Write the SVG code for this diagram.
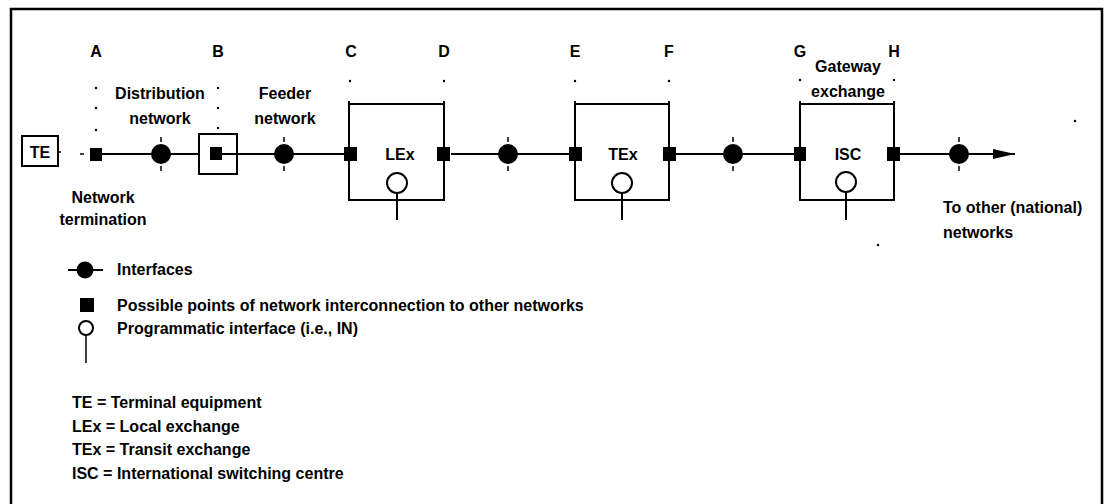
<svg xmlns="http://www.w3.org/2000/svg" width="1107" height="504" viewBox="0 0 1107 504">
<style>
text{font-family:"Liberation Sans",Arial,sans-serif;font-weight:bold;font-size:16px;fill:#000}
.c{text-anchor:middle}
.ln{stroke:#000;stroke-width:2;fill:none}
.thin{stroke:#000;stroke-width:1.5;fill:none}
.sq{fill:#000}
.dot{fill:#000}
.ifc{fill:#000}
.pi{fill:#fff;stroke:#000;stroke-width:2}
</style>
<defs>
<marker id="arr" viewBox="0 0 22 12" refX="22" refY="6" markerWidth="22" markerHeight="12" markerUnits="userSpaceOnUse" orient="auto">
<path d="M0,1 L22,6 L0,11 Z" fill="#000"/>
</marker>
<g id="ifcSym">
<line x1="0" y1="-17" x2="0" y2="-12" class="thin"/>
<line x1="0" y1="12" x2="0" y2="17" class="thin"/>
<circle cx="0" cy="0" r="10" class="ifc"/>
</g>
<g id="dotSym"><circle cx="0" cy="0" r="1.2" class="dot"/></g>
</defs>
<rect width="1107" height="504" fill="#fff"/>
<path d="M11,504 V9 H1102 V504" fill="none" stroke="#000" stroke-width="2.5"/>

<g id="reference-labels">
<text x="96" y="57" class="c">A</text>
<text x="218" y="57" class="c">B</text>
<text x="351" y="57" class="c">C</text>
<text x="444" y="57" class="c">D</text>
<text x="575" y="57" class="c">E</text>
<text x="669" y="57" class="c">F</text>
<text x="800" y="57" class="c">G</text>
<text x="894" y="57" class="c">H</text>
<use href="#dotSym" x="96" y="88"/><use href="#dotSym" x="96" y="108"/><use href="#dotSym" x="96" y="130"/>
<use href="#dotSym" x="218" y="88"/><use href="#dotSym" x="218" y="108"/><use href="#dotSym" x="218" y="128"/>
<use href="#dotSym" x="350" y="81"/><use href="#dotSym" x="444" y="81"/>
<use href="#dotSym" x="575" y="81"/><use href="#dotSym" x="669" y="81"/>
<use href="#dotSym" x="800" y="80"/><use href="#dotSym" x="894" y="80"/>
<use href="#dotSym" x="1075" y="121"/><use href="#dotSym" x="878" y="245"/>
</g>

<g id="connectors">
<line x1="58" y1="152" x2="61" y2="152" class="thin"/>
<line x1="80" y1="154" x2="84" y2="154" class="thin"/>
<line x1="101" y1="154" x2="199" y2="154" class="ln"/>
<line x1="222" y1="154" x2="345" y2="154" class="ln"/>
<line x1="451" y1="154" x2="569" y2="154" class="ln"/>
<line x1="675" y1="154" x2="794" y2="154" class="ln"/>
<line x1="900" y1="154" x2="1015" y2="154" class="ln" marker-end="url(#arr)"/>
</g>

<g id="TE">
<rect x="22" y="136" width="36" height="30" class="ln"/>
<text x="40" y="158" class="c">TE</text>
</g>

<g id="network-termination">
<rect x="90" y="148" width="12" height="13" class="sq"/>
<text x="103" y="203" class="c">Network</text>
<text x="103" y="225" class="c">termination</text>
</g>

<g id="distribution-network">
<use href="#ifcSym" x="161" y="154"/>
<text x="160" y="99" class="c">Distribution</text>
<text x="160" y="124" class="c">network</text>
</g>

<g id="B-point">
<rect x="199" y="134" width="38" height="40" class="ln"/>
<rect x="210" y="147" width="12" height="13" class="sq"/>
</g>

<g id="feeder-network">
<use href="#ifcSym" x="284" y="154"/>
<text x="285" y="99" class="c">Feeder</text>
<text x="285" y="124" class="c">network</text>
</g>

<g id="LEx">
<path d="M349,101 V200 H444 V101 M349,104 H444" class="ln"/>
<rect x="344" y="147" width="13" height="14" class="sq"/>
<rect x="437" y="147" width="13" height="14" class="sq"/>
<text x="400" y="160" class="c">LEx</text>
<line x1="397" y1="193" x2="397" y2="220" class="ln"/>
<circle cx="397" cy="183" r="10" class="pi"/>
</g>

<g id="interface-LEx-TEx">
<use href="#ifcSym" x="508" y="154"/>
</g>

<g id="TEx">
<path d="M575,101 V200 H669 V101 M575,104 H669" class="ln"/>
<rect x="569" y="147" width="13" height="14" class="sq"/>
<rect x="663" y="147" width="13" height="14" class="sq"/>
<text x="623" y="160" class="c">TEx</text>
<line x1="622" y1="193" x2="622" y2="220" class="ln"/>
<circle cx="622" cy="183" r="10" class="pi"/>
</g>

<g id="interface-TEx-ISC">
<use href="#ifcSym" x="733" y="154"/>
</g>

<g id="ISC">
<path d="M800,101 V200 H894 V101 M800,104 H894" class="ln"/>
<rect x="794" y="147" width="12" height="14" class="sq"/>
<rect x="887" y="147" width="13" height="14" class="sq"/>
<text x="848" y="160" class="c">ISC</text>
<text x="848" y="72" class="c">Gateway</text>
<text x="848" y="97" class="c">exchange</text>
<line x1="846" y1="192" x2="846" y2="220" class="ln"/>
<circle cx="846" cy="182" r="10" class="pi"/>
</g>

<g id="to-other-networks">
<use href="#ifcSym" x="959" y="154"/>
<text x="943" y="213">To other (national)</text>
<text x="943" y="238">networks</text>
</g>

<g id="legend">
<line x1="68" y1="270" x2="103" y2="270" class="ln"/>
<circle cx="85" cy="270" r="8.5" class="ifc"/>
<text x="117" y="275">Interfaces</text>
<rect x="80" y="298" width="14" height="14" class="sq"/>
<text x="117" y="311">Possible points of network interconnection to other networks</text>
<line x1="86" y1="335" x2="86" y2="363" class="thin"/>
<circle cx="86" cy="328" r="7" class="pi"/>
<text x="117" y="334">Programmatic interface (i.e., IN)</text>
<text x="72" y="408">TE = Terminal equipment</text>
<text x="72" y="432">LEx = Local exchange</text>
<text x="72" y="455">TEx = Transit exchange</text>
<text x="72" y="479">ISC = International switching centre</text>
</g>
</svg>
